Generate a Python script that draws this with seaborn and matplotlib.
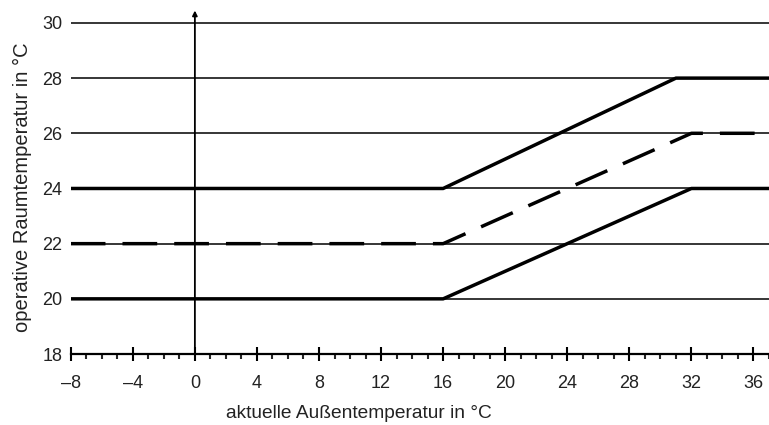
import numpy as np
import pandas as pd
import seaborn as sns
import matplotlib.pyplot as plt
from matplotlib.ticker import MultipleLocator

x_upper = [-8, 16, 31, 37]
y_upper = [24, 24, 28, 28]
x_mid = [-8, 16, 32, 37]
y_mid = [22, 22, 26, 26]
x_lower = [-8, 16, 32, 37]
y_lower = [20, 20, 24, 24]
y_grid = [20, 22, 24, 26, 28, 30]

df = pd.concat([
    pd.DataFrame({'aussen': x_upper, 'raum': y_upper, 'kurve': 'oben'}),
    pd.DataFrame({'aussen': x_mid, 'raum': y_mid, 'kurve': 'mitte'}),
    pd.DataFrame({'aussen': x_lower, 'raum': y_lower, 'kurve': 'unten'}),
])

sns.set_style('white')
plt.rcParams['font.family'] = ['Liberation Sans', 'DejaVu Sans']

fig = plt.figure(figsize=(7.69, 4.25), dpi=100)
ax = fig.add_axes([0.092, 0.167, 0.908, 0.805])

# thin grid lines
for g in y_grid:
    ax.axhline(g, color='black', lw=1.1, zorder=1)

sns.lineplot(data=df, x='aussen', y='raum', hue='kurve', style='kurve',
             palette={'oben': 'black', 'mitte': 'black', 'unten': 'black'},
             dashes={'oben': '', 'mitte': (10, 4.9), 'unten': ''},
             linewidth=2.5, legend=False, ax=ax, sort=False, zorder=3)

ax.set_xlim(-8, 37)
ax.set_ylim(18, 30.4)

# y axis at x=0 with arrow
ax.annotate('', xy=(0, 30.45), xytext=(0, 18),
            arrowprops=dict(arrowstyle='-|>', color='black', lw=1.3,
                            mutation_scale=7, shrinkA=0, shrinkB=0),
            annotation_clip=False, zorder=4)

for s in ['top', 'right', 'left']:
    ax.spines[s].set_visible(False)
ax.spines['bottom'].set_linewidth(1.6)
ax.spines['bottom'].set_color('black')

ax.xaxis.set_major_locator(MultipleLocator(4))
ax.xaxis.set_minor_locator(MultipleLocator(1))
ax.set_xticks(range(-8, 37, 4))
ax.set_xticklabels([str(v).replace('-', '\u2013') for v in range(-8, 37, 4)])
ax.set_yticks(range(18, 31, 2))
ax.tick_params(axis='x', which='major', direction='inout', length=10, width=1.5,
               bottom=True, labelsize=13, colors='black', labelcolor='#222222', pad=10)
ax.tick_params(axis='x', which='minor', direction='out', length=3.5, width=1.5,
               bottom=True)
ax.tick_params(axis='y', which='major', length=0, left=False, labelsize=13,
               labelcolor='#222222', pad=6)
ax.set_xlabel('')
ax.set_ylabel('')

fig.text(0.467, 0.026, 'aktuelle Au\u00dfentemperatur in \u00b0C', ha='center', va='center',
         fontsize=13.8, color='#222222')
fig.text(0.029, 0.56, 'operative Raumtemperatur in \u00b0C', ha='center', va='center',
         rotation=90, fontsize=14.5, color='#222222')

fig.savefig('out.png', dpi=100)
